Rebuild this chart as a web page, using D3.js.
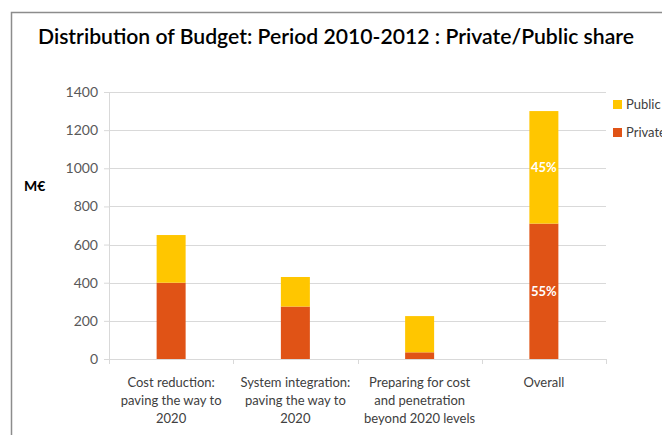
<!DOCTYPE html>
<html>
<head>
<meta charset="utf-8">
<script src="https://cdn.jsdelivr.net/npm/d3@7"></script>
<style>
  body { margin: 0; background: #fff; }
  svg { display: block; font-family: Lato, "Open Sans", sans-serif; }
</style>
</head>
<body>
<div id="chart"></div>
<script>
// Chart data.
var categories = [
    ["Cost reduction:", "paving the way to", "2020"],
    ["System integration:", "paving the way to", "2020"],
    ["Preparing for cost", "and penetration", "beyond 2020 levels"],
    ["Overall"]
];
var privateValues = [400, 275, 35, 710];
var publicValues  = [250, 155, 190, 590];
var seriesNames   = ["Private", "Public"];
var barLabels     = [["", "", "", "55%"], ["", "", "", "45%"]];
var yTicks        = [0, 200, 400, 600, 800, 1000, 1200, 1400];

var colors = { Private: "#E05316", Public: "#FFC600" };

var width = 662, height = 435;
var svg = d3.select("#chart").append("svg")
    .attr("width", width)
    .attr("height", height);

// Outer frame.
svg.append("rect")
    .attr("x", 11.5).attr("y", 12.5)
    .attr("width", 700).attr("height", 500)
    .attr("fill", "none")
    .attr("stroke", "#8c8c8c")
    .attr("stroke-width", 1.5);

// Title.
svg.append("text")
    .attr("x", 336).attr("y", 44)
    .attr("text-anchor", "middle")
    .attr("font-size", 21)
    .attr("font-weight", 600)
    .attr("textLength", 596)
    .attr("lengthAdjust", "spacingAndGlyphs")
    .attr("fill", "#000")
    .text("Distribution of Budget: Period 2010-2012 : Private/Public share");

// Scales.
var plot = { left: 109, right: 606, top: 92, bottom: 359 };
var x = d3.scaleBand()
    .domain(d3.range(categories.length))
    .range([plot.left, plot.right])
    .paddingInner(0).paddingOuter(0);
var y = d3.scaleLinear()
    .domain([0, 1400])
    .range([plot.bottom, plot.top]);

// Gridlines.
svg.append("g").selectAll("line")
    .data(yTicks).enter().append("line")
    .attr("x1", plot.left).attr("x2", plot.right)
    .attr("y1", function(d) { return Math.round(y(d)) + 0.5; })
    .attr("y2", function(d) { return Math.round(y(d)) + 0.5; })
    .attr("stroke", "#d9d9d9");

// Y axis.
var yAxis = svg.append("g")
    .attr("transform", "translate(" + plot.left + ",0)")
    .call(d3.axisLeft(y).tickValues(yTicks).tickFormat(d3.format("d"))
        .tickSize(5).tickPadding(6));
yAxis.select(".domain").attr("stroke", "#d9d9d9");
yAxis.selectAll(".tick line").attr("stroke", "#d9d9d9");
yAxis.selectAll(".tick text")
    .attr("font-size", 14)
    .attr("fill", "#595959")
    .attr("font-family", "Lato, sans-serif");

// X axis separators.
var seps = d3.range(categories.length + 1).map(function(i) {
    return i < categories.length ? x(i) : plot.right;
});
svg.append("g").selectAll("line")
    .data(seps).enter().append("line")
    .attr("x1", function(d) { return Math.round(d) + 0.5; })
    .attr("x2", function(d) { return Math.round(d) + 0.5; })
    .attr("y1", plot.bottom).attr("y2", plot.bottom + 5)
    .attr("stroke", "#d9d9d9");

// Category labels.
var catG = svg.append("g").selectAll("text")
    .data(categories).enter().append("text")
    .attr("text-anchor", "middle")
    .attr("font-size", 13)
    .attr("fill", "#404040");
catG.each(function(lines, i) {
    var t = d3.select(this);
    lines.forEach(function(line, j) {
        t.append("tspan")
            .attr("x", x(i) + x.bandwidth() / 2)
            .attr("y", 387 + j * 18)
            .text(line);
    });
});

// Stacked bars.
var rows = categories.map(function(c, i) {
    return { i: i, Private: privateValues[i], Public: publicValues[i] };
});
var stack = d3.stack().keys(seriesNames)(rows);
var barW = 29;

var layers = svg.append("g").selectAll("g")
    .data(stack).enter().append("g")
    .attr("fill", function(d) { return colors[d.key]; });

layers.selectAll("rect")
    .data(function(d) { return d; })
    .enter().append("rect")
    .attr("x", function(d, i) { return x(i) + x.bandwidth() / 2 - barW / 2; })
    .attr("y", function(d) { return y(d[1]); })
    .attr("width", barW)
    .attr("height", function(d) { return y(d[0]) - y(d[1]); });

// Percentage labels on the bars.
stack.forEach(function(layer, k) {
    svg.append("g").selectAll("text")
        .data(layer).enter().append("text")
        .attr("x", function(d, i) { return x(i) + x.bandwidth() / 2; })
        .attr("y", function(d) { return (y(d[0]) + y(d[1])) / 2 + 5; })
        .attr("text-anchor", "middle")
        .attr("font-size", 13)
        .attr("font-weight", "bold")
        .attr("fill", "#fff")
        .text(function(d, i) { return barLabels[k][i]; });
});

// Y axis title.
svg.append("text")
    .attr("x", 24).attr("y", 191)
    .attr("font-size", 14)
    .attr("font-weight", "bold")
    .attr("fill", "#000")
    .text("M€");

// Legend (Public first).
var legend = svg.append("g").selectAll("g")
    .data(["Public", "Private"]).enter().append("g")
    .attr("transform", function(d, i) { return "translate(613," + (100 + i * 28) + ")"; });
legend.append("rect")
    .attr("width", 9).attr("height", 9)
    .attr("fill", function(d) { return colors[d]; });
legend.append("text")
    .attr("x", 13).attr("y", 9)
    .attr("font-size", 13)
    .attr("fill", "#404040")
    .text(function(d) { return d; });
</script>
</body>
</html>
